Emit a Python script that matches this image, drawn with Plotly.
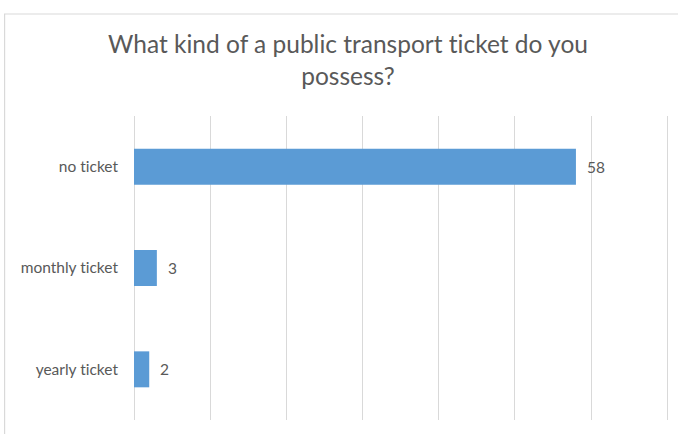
import plotly.graph_objects as go

categories = ["no ticket", "monthly ticket", "yearly ticket"]
counts = [58, 3, 2]
title_text = "What kind of a public transport ticket do you<br>possess?"

TEXT = "#595959"
BAR = "#5B9BD5"
GRID = "#D9D9D9"
FONT = "Lato"

fig = go.Figure(
    go.Bar(
        x=counts,
        y=categories,
        orientation="h",
        marker=dict(color=BAR, line=dict(width=0)),
        hoverinfo="x+y",
    )
)

for c, v in zip(categories, counts):
    fig.add_annotation(
        x=v, y=c, xref="x", yref="y", text=str(v), showarrow=False,
        xanchor="left", xshift=9, font=dict(family=FONT, size=15.5, color=TEXT),
    )

W, H = 678, 434
L, R, T, B = 133.5, 3.1, 116, 14
pw = W - L - R
ph = H - T - B

# chart area border (Excel style), partially clipped
fig.add_shape(
    type="rect", xref="paper", yref="paper",
    x0=(4 - L) / pw, x1=(W + 20 - L) / pw,
    y0=-(40) / ph, y1=(H - B - 14) / ph,
    line=dict(color=GRID, width=1.2), fillcolor="rgba(0,0,0,0)", layer="below",
)

fig.update_layout(
    width=W, height=H,
    margin=dict(l=L, r=R, t=T, b=B, autoexpand=False),
    paper_bgcolor="white", plot_bgcolor="white",
    bargap=0.645,
    showlegend=False,
    title=dict(
        text=title_text, x=348 / W, xanchor="center", xref="container",
        y=1 - 53 / H, yanchor="top",
        font=dict(family=FONT, size=24.5, color=TEXT),
    ),
    xaxis=dict(
        range=[0, 71], tickvals=[0, 10, 20, 30, 40, 50, 60, 70], showticklabels=False,
        showgrid=True, gridcolor=GRID, gridwidth=1,
        zeroline=True, zerolinecolor=GRID, zerolinewidth=1,
        showline=False, fixedrange=True,
    ),
    yaxis=dict(
        autorange="reversed", showgrid=False, showline=False, zeroline=False,
        ticks="", ticklabelstandoff=15, fixedrange=True,
        tickfont=dict(family=FONT, size=15.5, color=TEXT),
    ),
    font=dict(family=FONT, color=TEXT),
)

fig.write_html(
    "out.html",
    config={"displayModeBar": False},
    post_script=(
        "document.body.style.margin='0';document.body.style.overflow='hidden';"
        "var s=document.createElement('style');"
        "s.innerHTML='text{font-variant-ligatures:none;font-feature-settings:\"liga\" 0;}';"
        "document.head.appendChild(s);"
    ),
)
